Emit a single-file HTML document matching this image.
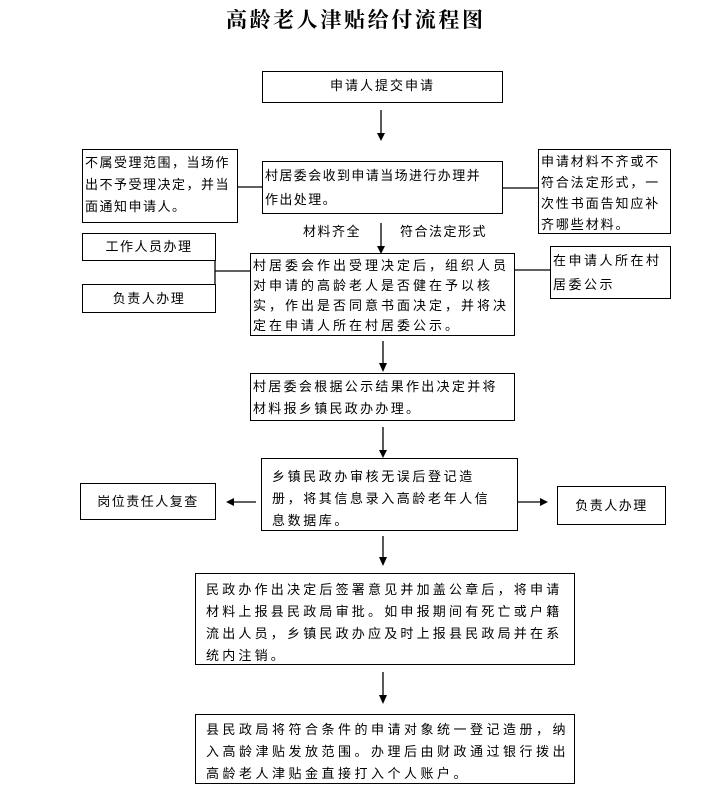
<!DOCTYPE html>
<html><head><meta charset="utf-8"><style>
body{margin:0;width:720px;height:805px;background:#fff;position:relative;overflow:hidden;font-family:"Liberation Serif","Noto Serif CJK SC","Noto Sans CJK SC",serif;color:#000}
.b{position:absolute;border:1.5px solid #000;box-sizing:border-box;font-size:13px;line-height:23px;padding:1px 2px;white-space:nowrap;font-family:"Noto Sans CJK SC","WenQuanYi Zen Hei",sans-serif}
.t{position:absolute;font-size:13px;white-space:nowrap;font-family:"Noto Sans CJK SC",sans-serif}
svg{position:absolute;left:0;top:0}
</style></head><body>
<div style="position:absolute;left:226px;top:4px;font-size:21px;font-weight:bold;letter-spacing:2.6px;white-space:nowrap">高龄老人津贴给付流程图</div>

<div class="b" style="left:262px;top:71px;width:241px;height:32px;text-align:center;letter-spacing:2px;line-height:20px;padding-top:3px">申请人提交申请</div>

<div class="b" style="left:82px;top:149px;width:156px;height:74px;letter-spacing:1.5px;line-height:22px">不属受理范围，当场作<br>出不予受理决定，并当<br>面通知申请人。</div>
<div class="b" style="left:262px;top:161px;width:241px;height:53px;letter-spacing:1.4px;line-height:24px">村居委会收到申请当场进行办理并<br>作出处理。</div>
<div class="b" style="left:538px;top:149px;width:133px;height:85px;letter-spacing:1.9px;line-height:21px;padding-top:0">申请材料不齐或不<br>符合法定形式，一<br>次性书面告知应补<br>齐哪些材料。</div>

<div class="t" style="left:303px;top:221px;letter-spacing:1.5px">材料齐全</div>
<div class="t" style="left:400px;top:221px;letter-spacing:1.5px">符合法定形式</div>

<div class="b" style="left:82px;top:233px;width:134px;height:28px;text-align:center;letter-spacing:1.5px;line-height:24px;padding:0">工作人员办理</div>
<div class="b" style="left:82px;top:284px;width:134px;height:29px;text-align:center;letter-spacing:1.5px;line-height:25px;padding:0">负责人办理</div>
<div class="b" style="left:250px;top:253px;width:265px;height:83px;letter-spacing:3px;line-height:20px;padding-top:1px">村居委会作出受理决定后，组织人员<br>对申请的高龄老人是否健在予以核<br>实，作出是否同意书面决定，并将决<br>定在申请人所在村居委公示。</div>
<div class="b" style="left:550px;top:246px;width:121px;height:53px;letter-spacing:2.5px;line-height:24px">在申请人所在村<br>居委公示</div>

<div class="b" style="left:250px;top:373px;width:265px;height:48px;letter-spacing:2.3px;line-height:22px;padding-top:1px">村居委会根据公示结果作出决定并将<br>材料报乡镇民政办办理。</div>

<div class="b" style="left:80px;top:483px;width:136px;height:37px;text-align:center;letter-spacing:1.5px;line-height:33px;padding:0">岗位责任人复查</div>
<div class="b" style="left:261px;top:458px;width:257px;height:73px;letter-spacing:2.6px;line-height:22px;padding:6px 0 0 10px">乡镇民政办审核无误后登记造<br>册，将其信息录入高龄老年人信<br>息数据库。</div>
<div class="b" style="left:557px;top:486px;width:109px;height:39px;text-align:center;letter-spacing:1.5px;line-height:35px;padding:0">负责人办理</div>

<div class="b" style="left:195px;top:573px;width:380px;height:92px;letter-spacing:3.2px;line-height:22px;padding:4px 0 0 10px">民政办作出决定后签署意见并加盖公章后，将申请<br>材料上报县民政局审批。如申报期间有死亡或户籍<br>流出人员，乡镇民政办应及时上报县民政局并在系<br>统内注销。</div>
<div class="b" style="left:195px;top:714px;width:380px;height:70px;letter-spacing:3.5px;line-height:22px;padding:3px 0 0 10px">县民政局将符合条件的申请对象统一登记造册，纳<br>入高龄津贴发放范围。办理后由财政通过银行拨出<br>高龄老人津贴金直接打入个人账户。</div>

<svg width="720" height="805" viewBox="0 0 720 805">
<g stroke="#000" stroke-width="1.3" fill="none">
<line x1="381" y1="110" x2="381" y2="133"/>
<line x1="238" y1="187" x2="262" y2="187"/>
<line x1="503" y1="188" x2="538" y2="188"/>
<line x1="381" y1="223" x2="381" y2="246"/>
<line x1="215" y1="261" x2="215" y2="284"/>
<line x1="215" y1="271" x2="250" y2="271"/>
<line x1="515" y1="270" x2="550" y2="270"/>
<line x1="383" y1="341" x2="383" y2="363"/>
<line x1="383" y1="427" x2="383" y2="450"/>
<line x1="256" y1="502" x2="234" y2="502"/>
<line x1="518" y1="502" x2="540" y2="502"/>
<line x1="383" y1="536" x2="383" y2="557"/>
<line x1="383" y1="672" x2="383" y2="695"/>
</g>
<g fill="#000">
<polygon points="377,133 385,133 381,141"/>
<polygon points="377,246 385,246 381,254"/>
<polygon points="379,363 387,363 383,372"/>
<polygon points="379,450 387,450 383,458"/>
<polygon points="234,498 234,506 226,502"/>
<polygon points="540,498 540,506 548,502"/>
<polygon points="379,557 387,557 383,566"/>
<polygon points="379,695 387,695 383,704"/>
</g>
</svg>
</body></html>
